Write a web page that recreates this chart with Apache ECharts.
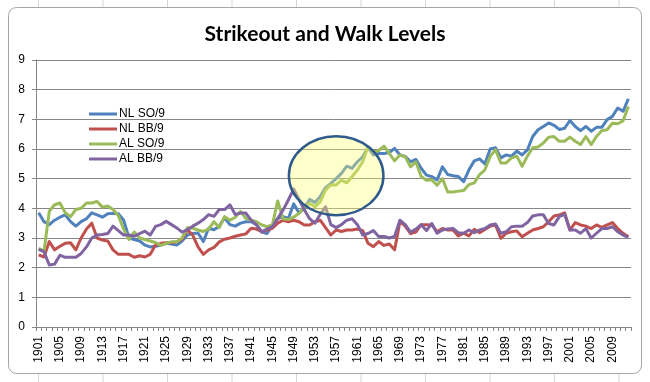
<!DOCTYPE html>
<html><head><meta charset="utf-8">
<script src="https://cdn.jsdelivr.net/npm/echarts@6/dist/echarts.min.js"></script>
<style>html,body{margin:0;padding:0;background:#fff}#c{width:650px;height:382px}</style>
</head><body><div id="c"></div>
<script>
const years = [
'1901','1902','1903','1904','1905','1906','1907','1908','1909','1910',
'1911','1912','1913','1914','1915','1916','1917','1918','1919','1920',
'1921','1922','1923','1924','1925','1926','1927','1928','1929','1930',
'1931','1932','1933','1934','1935','1936','1937','1938','1939','1940',
'1941','1942','1943','1944','1945','1946','1947','1948','1949','1950',
'1951','1952','1953','1954','1955','1956','1957','1958','1959','1960',
'1961','1962','1963','1964','1965','1966','1967','1968','1969','1970',
'1971','1972','1973','1974','1975','1976','1977','1978','1979','1980',
'1981','1982','1983','1984','1985','1986','1987','1988','1989','1990',
'1991','1992','1993','1994','1995','1996','1997','1998','1999','2000',
'2001','2002','2003','2004','2005','2006','2007','2008','2009','2010',
'2011','2012'];

const nlSO = [
3.85,3.55,3.45,3.6,3.7,3.78,3.55,3.4,3.55,3.65,
3.85,3.78,3.7,3.82,3.83,3.82,3.6,3.0,2.95,2.9,
2.76,2.7,2.72,2.76,2.82,2.8,2.76,2.9,3.1,3.15,
3.17,2.88,3.33,3.28,3.4,3.68,3.45,3.4,3.5,3.55,
3.55,3.45,3.2,3.15,3.45,3.65,3.72,3.66,4.15,3.85,
4.0,4.3,4.2,4.4,4.7,4.84,5.0,5.18,5.42,5.35,
5.57,5.74,6.05,5.8,5.85,5.85,5.88,6.02,5.8,5.75,
5.57,5.65,5.35,5.12,5.07,4.96,5.4,5.14,5.1,5.07,
4.9,5.3,5.6,5.67,5.5,6.0,6.04,5.7,5.8,5.76,
5.93,5.8,5.97,6.42,6.65,6.76,6.88,6.8,6.66,6.7,
6.96,6.76,6.62,6.76,6.6,6.73,6.73,6.99,7.1,7.38,
7.27,7.69];

const nlBB = [
2.43,2.36,2.88,2.6,2.72,2.82,2.84,2.6,3.0,3.3,
3.5,3.0,2.93,2.9,2.6,2.45,2.45,2.45,2.35,2.4,
2.36,2.45,2.76,2.82,2.84,2.84,2.87,2.96,3.28,3.1,
2.7,2.45,2.6,2.68,2.87,2.96,3.0,3.06,3.1,3.14,
3.33,3.3,3.21,3.27,3.33,3.5,3.6,3.55,3.6,3.55,
3.44,3.44,3.55,3.6,3.35,3.1,3.27,3.22,3.27,3.27,
3.3,3.25,2.82,2.71,2.88,2.75,2.8,2.6,3.55,3.4,
3.15,3.2,3.45,3.45,3.44,3.21,3.32,3.27,3.27,3.07,
3.16,3.07,3.29,3.18,3.29,3.4,3.44,2.99,3.16,3.21,
3.24,3.04,3.16,3.27,3.32,3.38,3.55,3.74,3.78,3.85,
3.27,3.52,3.44,3.4,3.32,3.44,3.36,3.44,3.52,3.32,
3.16,3.04];

const alSO = [
2.65,2.55,3.9,4.12,4.18,3.85,3.72,3.96,4.0,4.18,
4.18,4.23,4.04,4.08,3.96,3.75,3.3,2.95,3.2,3.0,
2.95,2.9,2.85,2.75,2.82,2.87,2.87,3.0,3.35,3.33,
3.27,3.22,3.3,3.55,3.35,3.72,3.6,3.7,3.9,3.66,
3.6,3.55,3.44,3.38,3.44,4.25,3.65,3.62,3.7,3.83,
4.05,4.17,4.05,4.22,4.62,4.79,4.79,4.95,4.86,5.07,
5.29,5.57,6.08,5.9,5.95,6.1,5.85,5.6,5.8,5.74,
5.4,5.57,5.07,4.95,4.96,4.78,5.0,4.55,4.55,4.58,
4.6,4.8,4.86,5.14,5.3,5.75,5.98,5.53,5.53,5.7,
5.76,5.42,5.76,6.04,6.07,6.2,6.4,6.42,6.26,6.26,
6.4,6.26,6.15,6.42,6.15,6.42,6.62,6.65,6.87,6.85,
6.95,7.43];

const alBB = [
2.62,2.54,2.09,2.12,2.42,2.35,2.35,2.35,2.48,2.7,
3.0,3.1,3.12,3.15,3.4,3.25,3.1,3.1,3.06,3.15,
3.23,3.1,3.39,3.45,3.56,3.45,3.34,3.2,3.28,3.4,
3.5,3.62,3.79,3.73,3.96,3.96,4.12,3.79,3.84,3.84,
3.6,3.44,3.21,3.3,3.38,3.66,3.94,4.28,4.65,4.3,
3.95,3.65,3.5,3.8,4.05,3.45,3.35,3.45,3.6,3.65,
3.45,3.1,3.15,3.25,3.05,3.05,3.0,3.05,3.6,3.45,
3.2,3.3,3.45,3.25,3.49,3.16,3.27,3.3,3.32,3.18,
3.16,3.27,3.18,3.27,3.32,3.44,3.47,3.16,3.21,3.38,
3.4,3.4,3.52,3.74,3.78,3.78,3.49,3.44,3.72,3.8,
3.27,3.27,3.16,3.32,3.0,3.16,3.32,3.32,3.38,3.21,
3.1,3.02];

const seriesNames = ['NL SO/9','NL BB/9','AL SO/9','AL BB/9'];
const seriesColors = ['#4F81BD','#C0504D','#9BBB59','#8064A2'];
const yMin = 0, yMax = 9, yStep = 1;
const titleText = 'Strikeout and Walk Levels';
// highlight ellipse, in data units
const highlight = { year: '1957', value: 5.1, halfYears: 8.9, halfValue: 1.33 };

const chart = echarts.init(document.getElementById('c'), null, { renderer: 'canvas' });
const gray = '#868686';
const allData = [nlSO, nlBB, alSO, alBB];

const frameEls = [];
const colXs = [38.5, 103, 167.5, 232, 296.5, 361, 425.5, 490, 554.5, 619];
colXs.forEach(x => frameEls.push({ type: 'line', z: -20, silent: true,
  shape: { x1: x, y1: 0, x2: x, y2: 382 }, style: { stroke: '#d4d6d8', lineWidth: 1 } }));
frameEls.push({ type: 'rect', z: -10, silent: true,
  shape: { x: 8.5, y: 7.5, width: 633, height: 366, r: 8 },
  style: { fill: '#fff', stroke: '#a5a5a5', lineWidth: 1 } });

chart.setOption({
  animation: false,
  backgroundColor: '#fff',
  title: { text: titleText, left: 'center', top: 19,
    textStyle: { fontFamily: 'Lato', fontWeight: 'bold', fontSize: 21, color: '#000' } },
  legend: {
    data: seriesNames, orient: 'vertical', left: 84, top: 103,
    icon: 'rect', itemWidth: 28, itemHeight: 3, itemGap: 3,
    textStyle: { fontFamily: 'Liberation Sans', fontSize: 12, color: '#000', padding: [0,0,0,-3] }
  },
  grid: { left: 36, right: 19, top: 60, bottom: 55, containLabel: false },
  xAxis: {
    type: 'category', data: years, boundaryGap: true,
    axisLine: { show: true, lineStyle: { color: gray, width: 1 } },
    axisTick: { show: true, interval: 0, length: 4, lineStyle: { color: gray } },
    axisLabel: { interval: 3, rotate: 90, margin: 9, fontFamily: 'Liberation Sans', fontSize: 12, color: '#000' },
    splitLine: { show: false }
  },
  yAxis: {
    type: 'value', min: yMin, max: yMax, interval: yStep,
    axisLine: { show: true, lineStyle: { color: gray, width: 1 } },
    axisTick: { show: true, length: 4, lineStyle: { color: gray } },
    axisLabel: { margin: 11, fontFamily: 'Liberation Sans', fontSize: 12, color: '#000' },
    splitLine: { show: true, lineStyle: { color: gray, width: 1 } }
  },
  series: seriesNames.map((n, i) => ({
    name: n, type: 'line', data: allData[i], symbol: 'none', smooth: false,
    color: seriesColors[i],
    lineStyle: { width: 3, color: seriesColors[i], join: 'round' }
  })),
  graphic: frameEls
});

// place the highlight ellipse using the chart's own scales
const c0 = chart.convertToPixel({ xAxisIndex: 0, yAxisIndex: 0 }, [highlight.year, highlight.value]);
const pA = chart.convertToPixel({ xAxisIndex: 0 }, years[0]);
const pB = chart.convertToPixel({ xAxisIndex: 0 }, years[1]);
const pxPerYear = pB - pA;
const pTop = chart.convertToPixel({ yAxisIndex: 0 }, highlight.value + highlight.halfValue);
chart.setOption({
  graphic: frameEls.concat([{
    type: 'ellipse', z: 50, silent: true,
    shape: { cx: c0[0], cy: c0[1], rx: highlight.halfYears * pxPerYear, ry: Math.abs(c0[1] - pTop) },
    style: { fill: 'rgba(255,255,110,0.36)', stroke: '#2F5A8C', lineWidth: 2.5 }
  }])
});
</script>
</body></html>
